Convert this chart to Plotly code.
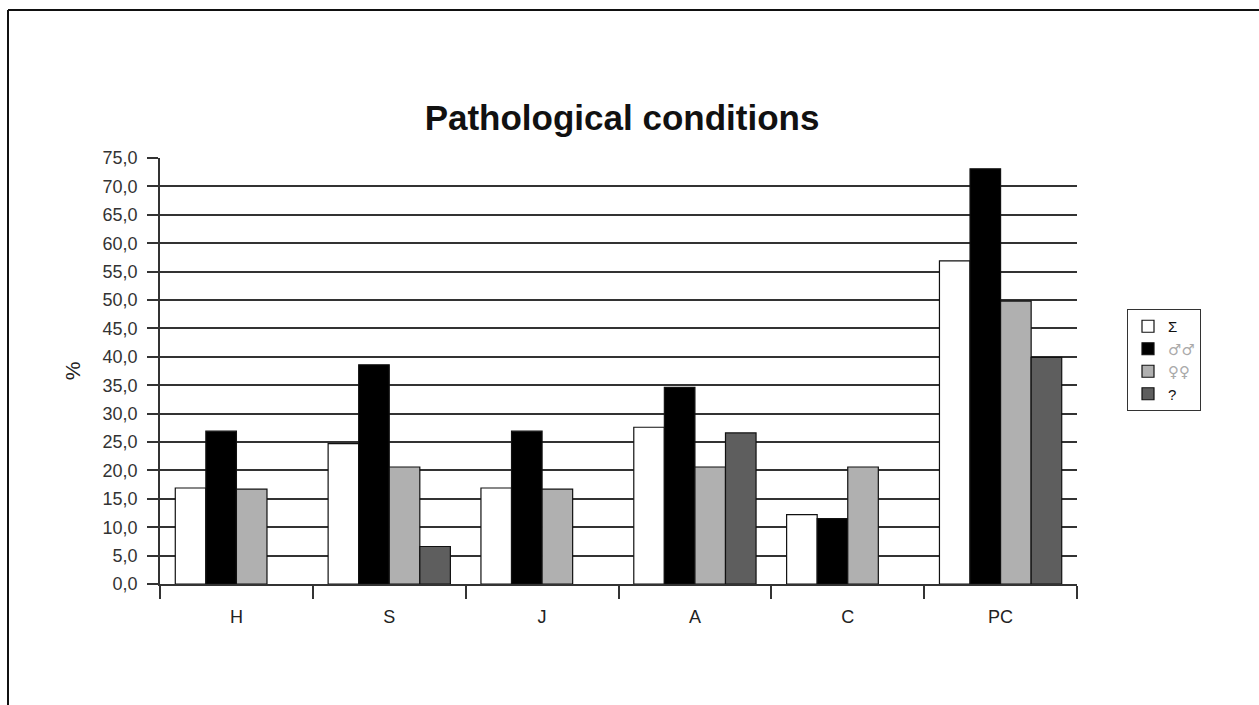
import plotly.graph_objects as go

categories = ["H", "S", "J", "A", "C", "PC"]
sigma = [16.9, 24.7, 16.9, 27.6, 12.2, 56.9]
males = [26.9, 38.6, 26.9, 34.6, 11.5, 73.1]
females = [16.7, 20.6, 16.7, 20.6, 20.6, 49.8]
unknown = [None, 6.6, None, 26.6, None, 39.9]

sym_style = "color:#aaaaaa;font-family:DejaVu Sans"
series_names = ["Σ", f"<span style='{sym_style}'>♂♂</span>",
                f"<span style='{sym_style}'>♀♀</span>", "?"]
series_values = [sigma, males, females, unknown]
series_colors = ["#ffffff", "#000000", "#b0b0b0", "#5e5e5e"]

fig = go.Figure()
for name, vals, col in zip(series_names, series_values, series_colors):
    fig.add_trace(go.Bar(
        x=categories, y=vals, name=name,
        marker=dict(color=col, line=dict(color="#111111", width=1.2)),
    ))

W, H = 1259, 705
L, R, T, B = 160, 182, 158, 121
pw, ph = W - L - R, H - T - B

def px_x(x):
    return (x - L) / pw

def px_y(y):
    return (H - B - y) / ph

fig.update_layout(
    width=W, height=H,
    margin=dict(l=L, r=R, t=T, b=B),
    paper_bgcolor="white", plot_bgcolor="white",
    barmode="group", bargap=0.2, bargroupgap=0,
    separators=",.",
    font=dict(family="Liberation Sans, Arial, sans-serif", color="#222222", size=16),
    title=dict(text="<b>Pathological conditions</b>", x=px_x(622), xref="paper",
               xanchor="center", y=1 - 118 / H, yanchor="middle",
               font=dict(size=35, color="#111111")),
    legend=dict(x=px_x(1127), y=px_y(309), xanchor="left", yanchor="top",
                bordercolor="#333333", borderwidth=1, bgcolor="white",
                font=dict(size=15, color="#111111"), tracegroupgap=0,
                itemwidth=30),
    xaxis=dict(showline=True, linecolor="#333333", linewidth=1.5,
               ticks="outside", tickson="boundaries", ticklen=13,
               tickcolor="#333333", tickwidth=1.5, showgrid=False,
               ticklabelstandoff=16,
               tickfont=dict(size=18, color="#222222")),
    yaxis=dict(range=[0, 75], dtick=5, tickformat=".1f",
               showline=True, linecolor="#333333", linewidth=1.5,
               ticks="outside", ticklen=11, tickcolor="#333333", tickwidth=1.5,
               showgrid=True, gridcolor="#333333", gridwidth=1.5,
               zeroline=False, ticklabelstandoff=6,
               title=dict(text="%", font=dict(size=21, color="#222222"), standoff=16),
               tickfont=dict(size=18, color="#333333")),
    shapes=[
        dict(type="line", xref="paper", yref="paper",
             x0=px_x(8), x1=px_x(8), y0=px_y(10), y1=px_y(720),
             line=dict(color="#111111", width=2)),
        dict(type="line", xref="paper", yref="paper",
             x0=px_x(8), x1=px_x(1270), y0=px_y(10), y1=px_y(10),
             line=dict(color="#111111", width=2)),
    ],
)

fig.write_html("out.html")
